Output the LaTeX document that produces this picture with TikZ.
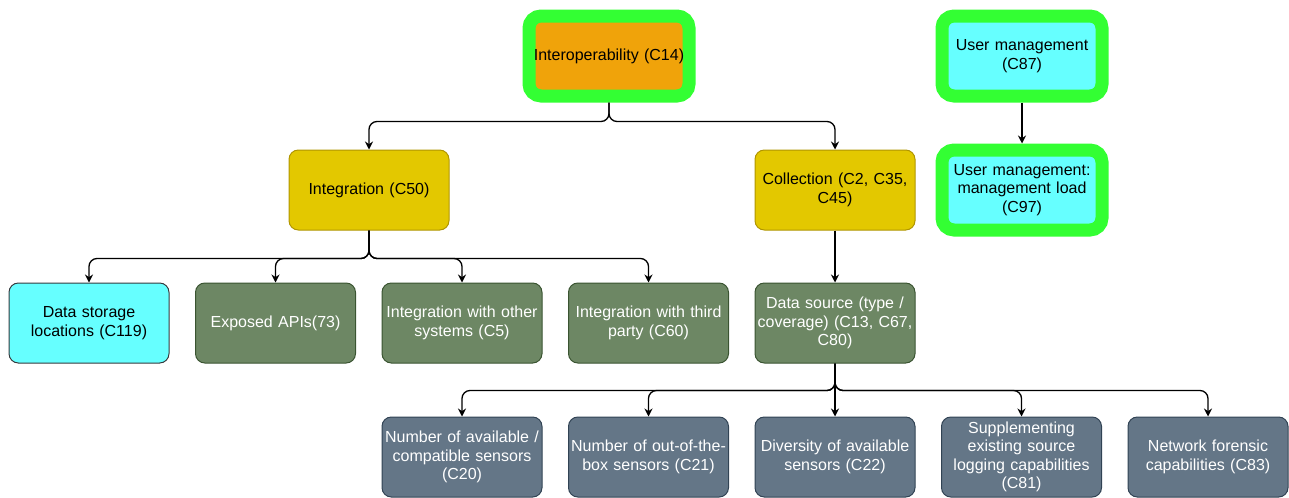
\documentclass[tikz,border=0pt]{standalone}
\usepackage{fontspec}
\setmainfont{Liberation Sans}
\usetikzlibrary{arrows.meta}

\definecolor{topicorange}{HTML}{F0A30A}
\definecolor{keygreen}{HTML}{33FF33}
\definecolor{lightcyan}{HTML}{66FFFF}
\definecolor{cyanline}{HTML}{36393D}
\definecolor{groupyellow}{HTML}{E3C800}
\definecolor{groupline}{HTML}{B09500}
\definecolor{leafolive}{HTML}{6D8764}
\definecolor{oliveline}{HTML}{3A5431}
\definecolor{leafslate}{HTML}{647687}
\definecolor{slateline}{HTML}{314354}

\begin{document}
\begin{tikzpicture}[x=0.75pt, y=-0.75pt,
    box/.style={draw, rounded corners=7pt, minimum width=120pt, minimum height=60pt,
                text width=118pt, align=center, inner sep=0pt, line width=0.75pt,
                font=\fontsize{12}{13.8}\selectfont},
    keybox/.style={box, draw=keygreen, line width=9.75pt, rounded corners=9pt},
    topicbox/.style={keybox, fill=topicorange, text=black},
    userbox/.style={keybox, fill=lightcyan, text=black},
    groupbox/.style={box, fill=groupyellow, draw=groupline, text=black},
    cyanbox/.style={box, fill=lightcyan, draw=cyanline, text=black},
    olivebox/.style={box, fill=leafolive, draw=oliveline, text=white},
    slatebox/.style={box, fill=leafslate, draw=slateline, text=white},
    link/.style={line width=1pt, rounded corners=6pt, -{Stealth[length=6pt,width=6pt]}}]
    \useasboundingbox (0,0) rectangle (1289,497);

    \node[topicbox] (interop) at (609,56) {Interoperability (C14)};
    \node[userbox] (usermgmt) at (1022,56) {User management\\(C87)};
    \node[userbox] (mgmtload) at (1022,190) {User management:\\management load\\(C97)};

    \node[groupbox] (integ) at (369,190) {Integration (C50)};
    \node[groupbox] (collect) at (835,190) {Collection (C2, C35,\\C45)};

    \node[cyanbox] (storage) at (89,323) {Data storage\\locations (C119)};
    \node[olivebox] (apis) at (275.5,323) {Exposed APIs(73)};
    \node[olivebox] (othersys) at (462,323) {Integration with other\\systems (C5)};
    \node[olivebox] (thirdparty) at (648.5,323) {Integration with third\\party (C60)};
    \node[olivebox] (datasource) at (835,323) {Data source (type /\\coverage) (C13, C67,\\C80)};

    \node[slatebox] (numsensors) at (462,457) {Number of available /\\compatible sensors\\(C20)};
    \node[slatebox] (oobsensors) at (648.5,457) {Number of out-of-the-\\box sensors (C21)};
    \node[slatebox] (diversity) at (835,457) {Diversity of available\\sensors (C22)};
    \node[slatebox] (supplement) at (1021.5,457) {Supplementing\\existing source\\logging capabilities\\(C81)};
    \node[slatebox] (netforensic) at (1208,457) {Network forensic\\capabilities (C83)};

    \draw[link] (interop.south) -- ++(0,19) -| (integ.north);
    \draw[link] (interop.south) -- ++(0,19) -| (collect.north);
    \draw[link] (usermgmt.south) -- (mgmtload.north);

    \foreach \leaf in {storage, apis, othersys, thirdparty}
        \draw[link] (integ.south) -- ++(0,28) -| (\leaf.north);
    \draw[link] (collect.south) -- (datasource.north);

    \foreach \leaf in {numsensors, oobsensors, diversity, supplement, netforensic}
        \draw[link] (datasource.south) -- ++(0,27) -| (\leaf.north);
\end{tikzpicture}
\end{document}
